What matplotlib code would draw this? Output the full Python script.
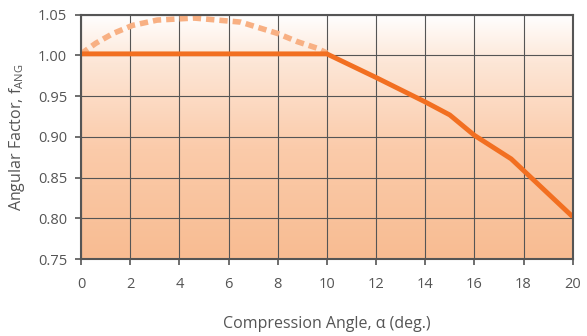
import matplotlib
matplotlib.use('Agg')
import matplotlib.pyplot as plt
import numpy as np
from matplotlib.colors import LinearSegmentedColormap

plt.rcParams['font.family'] = ['Open Sans', 'DejaVu Sans']
plt.rcParams['mathtext.fontset'] = 'custom'
plt.rcParams['mathtext.rm'] = 'Open Sans'

# datos
angulo = [0, 10, 12, 14, 15, 16, 17.5, 20]
factor = [1.002, 1.002, 0.973, 0.943, 0.927, 0.902, 0.873, 0.802]

angulo_curva = [0, 0.6, 1.3, 2.1, 3.1, 4.6, 6.5, 8.0, 8.8, 9.6, 10]
factor_curva = [1.002, 1.015, 1.027, 1.037, 1.0435, 1.046, 1.041, 1.027, 1.017, 1.009, 1.003]

x_ticks = list(range(0, 21, 2))
y_ticks = [0.75, 0.80, 0.85, 0.90, 0.95, 1.00, 1.05]

gris = '#555555'
naranja = '#F26F21'
naranja_claro = '#F8B083'

fig = plt.figure(figsize=(5.87, 3.36), dpi=100)
ax = fig.add_axes([0.138, 0.229, 0.9756 - 0.138, 0.956 - 0.229])

# fondo degradado
cmap = LinearSegmentedColormap.from_list('fondo', [(0, '#F8BC92'), (0.45, '#FBCBAA'), (0.8, '#FDE6D6'), (1.0, '#FFFFFF')])
grad = np.linspace(0, 1, 256).reshape(-1, 1)
ax.imshow(grad, extent=[0, 20, 0.75, 1.05], origin='lower', aspect='auto', cmap=cmap, zorder=0)

ax.plot(angulo_curva, factor_curva, color=naranja_claro, lw=4, dashes=(1.5, 0.9), zorder=3)
ax.plot(angulo, factor, color=naranja, lw=3.5, zorder=4, solid_capstyle='butt')

ax.set_xlim(0, 20)
ax.set_ylim(0.75, 1.05)
ax.set_xticks(x_ticks)
ax.set_yticks(y_ticks)
ax.set_yticklabels(['%.2f' % v for v in y_ticks])
ax.grid(True, color=gris, lw=0.8, zorder=1)
ax.set_axisbelow(False)
for s in ax.spines.values():
    s.set_color(gris)
    s.set_linewidth(1.5)
    s.set_zorder(5)
ax.tick_params(colors=gris, labelsize=10.5, length=4, width=1.2, pad=6)
ax.tick_params(axis='x', pad=9)

ax.set_xlabel('Compression Angle, α (deg.)', color=gris, fontsize=11.5, labelpad=17)
ax.set_ylabel(r'Angular Factor, f$_{\mathrm{ANG}}$', color=gris, fontsize=11.5, labelpad=8)

fig.savefig('out.png', dpi=100)
